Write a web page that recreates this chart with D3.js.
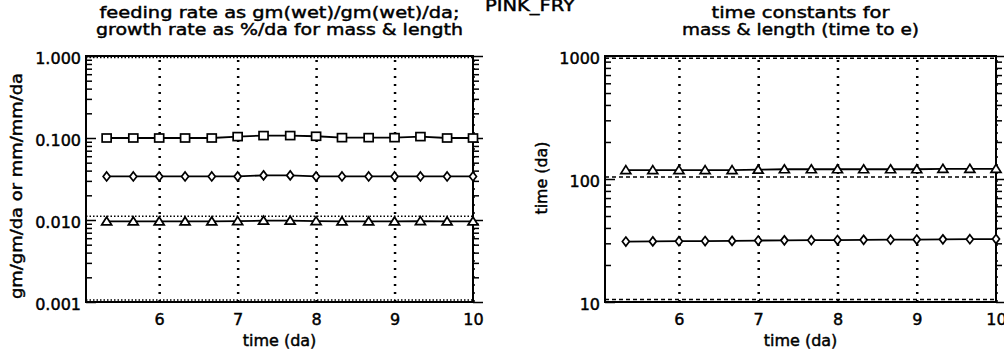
<!DOCTYPE html>
<html>
<head>
<meta charset="utf-8">
<script src="https://cdn.jsdelivr.net/npm/d3@7"></script>
<style>
  body { margin: 0; background: #fff; }
  svg { display: block; }
  text { font-family: "DejaVu Sans", sans-serif; fill: #000; stroke: #000; stroke-width: 0.45px; }
  .domain { display: none; }
</style>
</head>
<body>
<div id="chart-area"></div>
<script>
// time (da) of each sample
var days = [5.33, 5.67, 6.00, 6.33, 6.67, 7.00, 7.33, 7.67, 8.00, 8.33, 8.67, 9.00, 9.33, 9.67, 10.00];

// left panel: rates
var feedRate   = [0.100, 0.100, 0.100, 0.100, 0.100, 0.104, 0.107, 0.107, 0.105, 0.101, 0.101, 0.101, 0.104, 0.100, 0.100];
var massGrowth = [0.034, 0.034, 0.034, 0.034, 0.034, 0.034, 0.035, 0.035, 0.034, 0.034, 0.034, 0.034, 0.034, 0.034, 0.034];
var lenGrowth  = [0.0096, 0.0096, 0.0096, 0.0096, 0.0096, 0.0097, 0.0098, 0.0098, 0.0097, 0.0096, 0.0096, 0.0096, 0.0097, 0.0096, 0.0096];
var leftRefs   = [0.96, 0.0111, 0.00106];

// right panel: time constants
var lenTime  = [118, 118, 118, 118, 118, 119, 120, 120, 120, 120, 120, 120, 121, 121, 121];
var massTime = [31.0, 31.1, 31.2, 31.3, 31.4, 31.6, 31.7, 31.8, 31.9, 32.0, 32.1, 32.2, 32.3, 32.4, 32.5];
var rightRefs = [960, 104, 10.5];

var xTicks = [6, 7, 8, 9, 10];
var leftYTicks = [0.001, 0.01, 0.1, 1];
var rightYTicks = [10, 100, 1000];

var W = 1004, H = 356;
var svg = d3.select("#chart-area").append("svg")
    .attr("width", W)
    .attr("height", H);

svg.append("text")
    .attr("x", 530)
    .attr("y", 11)
    .attr("text-anchor", "middle")
    .attr("font-size", "16px")
    .attr("textLength", 90)
    .attr("lengthAdjust", "spacingAndGlyphs")
    .text("PINK_FRY");

function minorTicks(domain) {
    var out = [];
    var lo = Math.round(Math.log10(domain[0])), hi = Math.round(Math.log10(domain[1]));
    for (var e = lo; e < hi; e++) {
        for (var k = 2; k <= 9; k++) out.push(k * Math.pow(10, e));
    }
    return out;
}

function marker(sel, shape) {
    if (shape === "square") {
        sel.append("rect").attr("x", -4.5).attr("y", -4).attr("width", 9).attr("height", 8);
    } else if (shape === "diamond") {
        sel.append("path").attr("d", "M0,-4.5L3.5,0L0,4.5L-3.5,0Z");
    } else {
        sel.append("path").attr("d", "M0,-4.5L5,3.5L-5,3.5Z");
    }
}

function panel(opt) {
    var left = opt.left, top = 56, width = opt.width, height = 246;

    var g = svg.append("g")
        .attr("transform", "translate(" + left + "," + top + ")");

    var x = d3.scaleLinear().domain([5.067, 10]).range([0, width]);
    var y = d3.scaleLog().domain(opt.yDomain).range([height, 0]);

    // vertical dotted grid + x tick labels
    var xAxis = g.append("g")
        .attr("transform", "translate(0," + height + ")")
        .call(d3.axisBottom(x).tickValues(xTicks).tickSize(-height).tickPadding(12)
            .tickFormat(d3.format("d")));
    xAxis.selectAll("line")
        .attr("stroke", "#000")
        .attr("stroke-width", 2.5)
        .attr("stroke-dasharray", "2,6");
    xAxis.selectAll("text").attr("font-size", "16px");

    // reference lines
    g.selectAll(".ref").data(opt.refs).enter().append("line")
        .attr("class", "ref")
        .attr("x1", 0).attr("x2", width)
        .attr("y1", function(d) { return y(d); })
        .attr("y2", function(d) { return y(d); })
        .attr("stroke", "#000")
        .attr("stroke-width", 1.5)
        .attr("stroke-dasharray", opt.refDash);

    // y axes: labels on left, inward ticks on both sides
    var yLeft = g.append("g")
        .call(d3.axisLeft(y).tickValues(opt.yTicks).tickSize(0).tickPadding(5)
            .tickFormat(opt.yFormat));
    yLeft.selectAll("text").attr("font-size", "16px").attr("dy", "0.45em");

    [0, width].forEach(function(px, i) {
        var ax = i === 0 ? d3.axisLeft(y) : d3.axisRight(y);
        var sgn = i === 0 ? -1 : 1;
        g.append("g")
            .attr("transform", "translate(" + px + ",0)")
            .call(ax.tickValues(opt.yTicks).tickSize(sgn * 10).tickFormat(""))
            .selectAll("line").attr("stroke-width", 1.5);
        g.append("g")
            .attr("transform", "translate(" + px + ",0)")
            .call(ax.tickValues(minorTicks(opt.yDomain)).tickSize(sgn * 6).tickFormat(""))
            .selectAll("line").attr("stroke-width", 1.5);
    });

    // frame
    g.append("rect")
        .attr("width", width)
        .attr("height", height)
        .attr("fill", "none")
        .attr("stroke", "#000")
        .attr("stroke-width", 2);

    // series
    var line = d3.line()
        .x(function(d) { return x(d[0]); })
        .y(function(d) { return y(d[1]); });

    opt.series.forEach(function(s) {
        var pts = days.map(function(d, i) { return [d, s.values[i]]; });
        g.append("path")
            .attr("d", line(pts))
            .attr("fill", "none")
            .attr("stroke", "#000")
            .attr("stroke-width", 1.8);
        var m = g.selectAll(null).data(pts).enter().append("g")
            .attr("transform", function(d) { return "translate(" + x(d[0]) + "," + y(d[1]) + ")"; });
        marker(m, s.shape);
        m.selectAll("rect, path")
            .attr("fill", "#fff")
            .attr("stroke", "#000")
            .attr("stroke-width", 1.7);
    });

    // titles
    opt.title.forEach(function(t, i) {
        svg.append("text")
            .attr("x", left + width / 2)
            .attr("y", 18 + i * 17)
            .attr("text-anchor", "middle")
            .attr("font-size", "16px")
            .attr("textLength", t.len)
            .attr("lengthAdjust", "spacingAndGlyphs")
            .text(t.text);
    });

    svg.append("text")
        .attr("x", left + width / 2)
        .attr("y", 346)
        .attr("text-anchor", "middle")
        .attr("font-size", "16px")
        .text("time (da)");

    svg.append("text")
        .attr("transform", "translate(" + opt.yLabelX + "," + (top + height / 2 + opt.yLabelShift) + ") rotate(-90)")
        .attr("text-anchor", "middle")
        .attr("font-size", "16px")
        .attr("textLength", opt.yLabelLen)
        .attr("lengthAdjust", "spacingAndGlyphs")
        .text(opt.yLabel);
}

panel({
    left: 86, width: 387,
    yDomain: [0.001, 1], yTicks: leftYTicks, yFormat: d3.format(".3f"),
    refs: leftRefs, refDash: "1.5,2",
    series: [
        { values: feedRate, shape: "square" },
        { values: massGrowth, shape: "diamond" },
        { values: lenGrowth, shape: "triangle" }
    ],
    title: [
        { text: "feeding rate as gm(wet)/gm(wet)/da;", len: 360 },
        { text: "growth rate as %/da for mass & length", len: 367 }
    ],
    yLabel: "gm/gm/da or mm/mm/da", yLabelX: 22, yLabelShift: 7, yLabelLen: 226
});

panel({
    left: 605, width: 391,
    yDomain: [10, 1000], yTicks: rightYTicks, yFormat: d3.format("d"),
    refs: rightRefs, refDash: "4,3",
    series: [
        { values: lenTime, shape: "triangle" },
        { values: massTime, shape: "diamond" }
    ],
    title: [
        { text: "time constants for", len: 178 },
        { text: "mass & length (time to e)", len: 237 }
    ],
    yLabel: "time (da)", yLabelX: 547, yLabelShift: -1, yLabelLen: 73
});
</script>
</body>
</html>
